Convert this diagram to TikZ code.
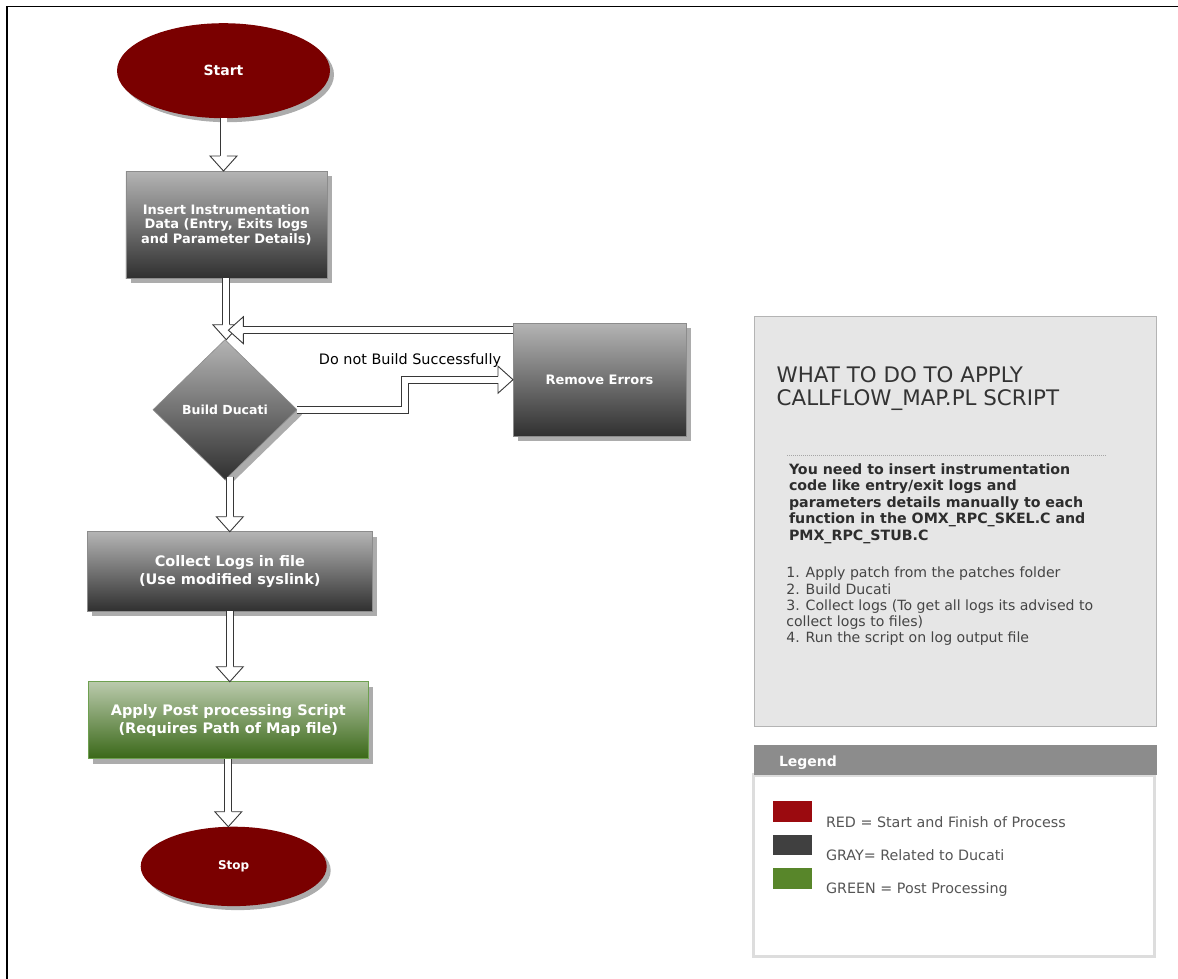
\documentclass[tikz,border=0pt]{standalone}
\usepackage{fontspec}
\setmainfont{DejaVu Sans}
\usetikzlibrary{positioning,calc,shapes.geometric,shadows}

\definecolor{termred}{RGB}{122,0,0}
\definecolor{boxtop}{RGB}{180,180,180}
\definecolor{boxbot}{RGB}{48,48,48}
\definecolor{boxedge}{RGB}{140,140,140}
\definecolor{posttop}{RGB}{186,202,172}
\definecolor{postbot}{RGB}{58,104,24}
\definecolor{postedge}{RGB}{110,160,80}
\definecolor{shadowgray}{RGB}{172,172,172}
\definecolor{arrowline}{RGB}{55,55,55}
\definecolor{panelfill}{RGB}{230,230,230}
\definecolor{paneledge}{RGB}{180,180,180}
\definecolor{titlegray}{RGB}{51,51,51}
\definecolor{bodygray}{RGB}{45,45,45}
\definecolor{listgray}{RGB}{68,68,68}
\definecolor{legendhead}{RGB}{140,140,140}
\definecolor{legendedge}{RGB}{221,221,221}
\definecolor{legendtext}{RGB}{85,85,85}
\definecolor{legendred}{RGB}{155,10,15}
\definecolor{legendgray}{RGB}{64,64,64}
\definecolor{legendgreen}{RGB}{88,134,42}

\newcommand{\fsz}[2]{\fontsize{#1}{#2}\selectfont}

\begin{document}
\begin{tikzpicture}[
    x=1pt, y=-1pt,
    term/.style={ellipse, fill=termred, text=white, inner sep=0pt, outer sep=0pt,
                 drop shadow={shadow xshift=4pt, shadow yshift=-4pt,
                              fill=shadowgray, opacity=1}},
    proc/.style={rectangle, draw=boxedge, line width=0.6pt, top color=boxtop,
                 bottom color=boxbot, text=white, align=center,
                 inner sep=0pt, outer sep=0pt,
                 drop shadow={shadow xshift=5pt, shadow yshift=-5pt,
                              fill=shadowgray, opacity=1}},
    post/.style={proc, draw=postedge, top color=posttop, bottom color=postbot},
    shaft/.style={draw=arrowline, line width=0.9pt, double=white,
                  double distance=6pt},
    bhead/.pic={\filldraw[fill=white, draw=arrowline, line width=0.9pt]
                (-15,3.45) -- (-15,13.5) -- (0,0) -- (-15,-13.5) -- (-15,-3.45);},
    plain/.style={inner sep=0pt, outer sep=0pt, align=left},
  ]
  \useasboundingbox (0,0) rectangle (1178,979);
  % page frame
  \draw[line width=1.4pt] (1178,6.5) -- (7,6.5) -- (7,979);

  % flow column
  \node[term, minimum width=213pt, minimum height=95pt,
        font=\bfseries\fsz{14}{17}] (start) at (223.5,70.7) {Start};
  \node[proc, minimum width=201pt, minimum height=107pt,
        font=\bfseries\fsz{13}{14.5}, below=52.8pt of start, xshift=2.8pt] (insert)
        {Insert Instrumentation\\Data (Entry, Exits logs\\and Parameter Details)};
  \node[proc, diamond, minimum width=144pt, minimum height=140pt,
        font=\bfseries\fsz{12.5}{15}, below=61.7pt of insert, xshift=-1.3pt] (dia)
        {Build Ducati};
  \node[proc, minimum width=285pt, minimum height=79.4pt,
        font=\bfseries\fsz{14.5}{18}, below=52pt of dia, xshift=4.8pt] (collect)
        {Collect Logs in file\\(Use modified syslink)};
  \node[post, minimum width=280pt, minimum height=77pt,
        font=\bfseries\fsz{14.5}{18}, below=70.6pt of collect, xshift=-1.5pt] (apply)
        {Apply Post processing Script\\(Requires Path of Map file)};
  \node[term, minimum width=186pt, minimum height=79.4pt,
        font=\bfseries\fsz{12}{14}, below=68pt of apply, xshift=5.4pt] (stop) {Stop};

  % error branch
  \node[proc, minimum width=173pt, minimum height=113pt,
        font=\bfseries\fsz{13}{15}, right=216pt of dia, yshift=30pt] (remove)
        {Remove Errors};

  % block arrows
  \draw[shaft] (start.south) -- ($(start.south |- insert.north)+(0,-15)$);
  \pic[rotate=-90] at (start.south |- insert.north) {bhead};

  \draw[shaft] (insert.south) -- ($(insert.south |- dia.north)+(0,-15)$);
  \pic[rotate=-90] at (insert.south |- dia.north) {bhead};

  \coordinate (backtip) at ($(dia.north)+(3.4,-9.5)$);
  \draw[shaft] (remove.west |- backtip) -- ($(backtip)+(15,0)$);
  \pic[rotate=180] at (backtip) {bhead};

  \draw[shaft] (dia.east) -- ++(108,0) |- ($(remove.west)+(-15,0)$);
  \pic at (remove.west) {bhead};
  \node[plain, font=\fsz{14.4}{17}, anchor=base east] (failnote)
        at ($(remove.west)+(-12,-15)$) {Do not Build Successfully};

  \draw[shaft] ($(collect.north |- dia.south)+(0,-3)$) -- ($(collect.north)+(0,-15)$);
  \pic[rotate=-90] at (collect.north) {bhead};

  \draw[shaft] (collect.south) -- ($(collect.south |- apply.north)+(0,-15)$);
  \pic[rotate=-90] at (collect.south |- apply.north) {bhead};

  \draw[shaft] (apply.south) -- ($(apply.south |- stop.north)+(0,-15)$);
  \pic[rotate=-90] at (apply.south |- stop.north) {bhead};

  % instructions panel
  \node[draw=paneledge, fill=panelfill, line width=0.8pt, inner sep=0pt, outer sep=0pt,
        minimum width=402.7pt, minimum height=409.3pt, anchor=north west]
        (panel) at (754,316.7) {};
  \node[plain, anchor=north west, text=titlegray, font=\fsz{21.4}{23}] (paneltitle)
        at (776.7,367.1) {WHAT TO DO TO APPLY\\CALLFLOW\_MAP.PL SCRIPT};
  \draw[gray!70, line width=0.8pt, dash pattern=on 1pt off 1pt]
        (787,455.7) -- (1107,455.7);
  \node[plain, anchor=north west, text=bodygray, font=\bfseries\fsz{14.2}{16.5}] (panelnote)
        at (789,463.3) {You need to insert instrumentation\\code like entry/exit logs and\\
        parameters details manually to each\\function in the OMX\_RPC\_SKEL.C and\\
        PMX\_RPC\_STUB.C};
  \node[plain, anchor=north west, text=listgray, font=\fsz{14.1}{16.3}] (steps)
        at (786.3,567) {1. Apply patch from the patches folder\\2. Build Ducati\\
        3. Collect logs (To get all logs its advised to\\collect logs to files)\\
        4. Run the script on log output file};

  % legend
  \node[draw=legendedge, fill=white, line width=3.5pt, inner sep=0pt, outer sep=0pt,
        minimum width=401.4pt, minimum height=181.3pt, anchor=north west]
        (legendbody) at (753.3,775) {};
  \node[fill=legendhead, inner sep=0pt, outer sep=0pt, minimum width=402.7pt,
        minimum height=30pt, anchor=north west] (legendbar) at (754,745) {};
  \node[plain, anchor=base west, text=white, font=\bfseries\fsz{14}{16}] (legendtitle)
        at (779,766.5) {Legend};
  \foreach \c/\t [count=\i] in {legendred/RED = Start and Finish of Process,
                                 legendgray/GRAY= Related to Ducati,
                                 legendgreen/GREEN = Post Processing} {
    \node[fill=\c, inner sep=0pt, outer sep=0pt, minimum width=38.6pt,
          minimum height=20.5pt, anchor=north west] (swatch\i)
          at (773,{801+33.5*(\i-1)}) {};
    \node[plain, anchor=base west, text=legendtext, font=\fsz{14.3}{16}] (legendtext\i)
          at (826,{827.3+33*(\i-1)}) {\t};
  }
\end{tikzpicture}
\end{document}
